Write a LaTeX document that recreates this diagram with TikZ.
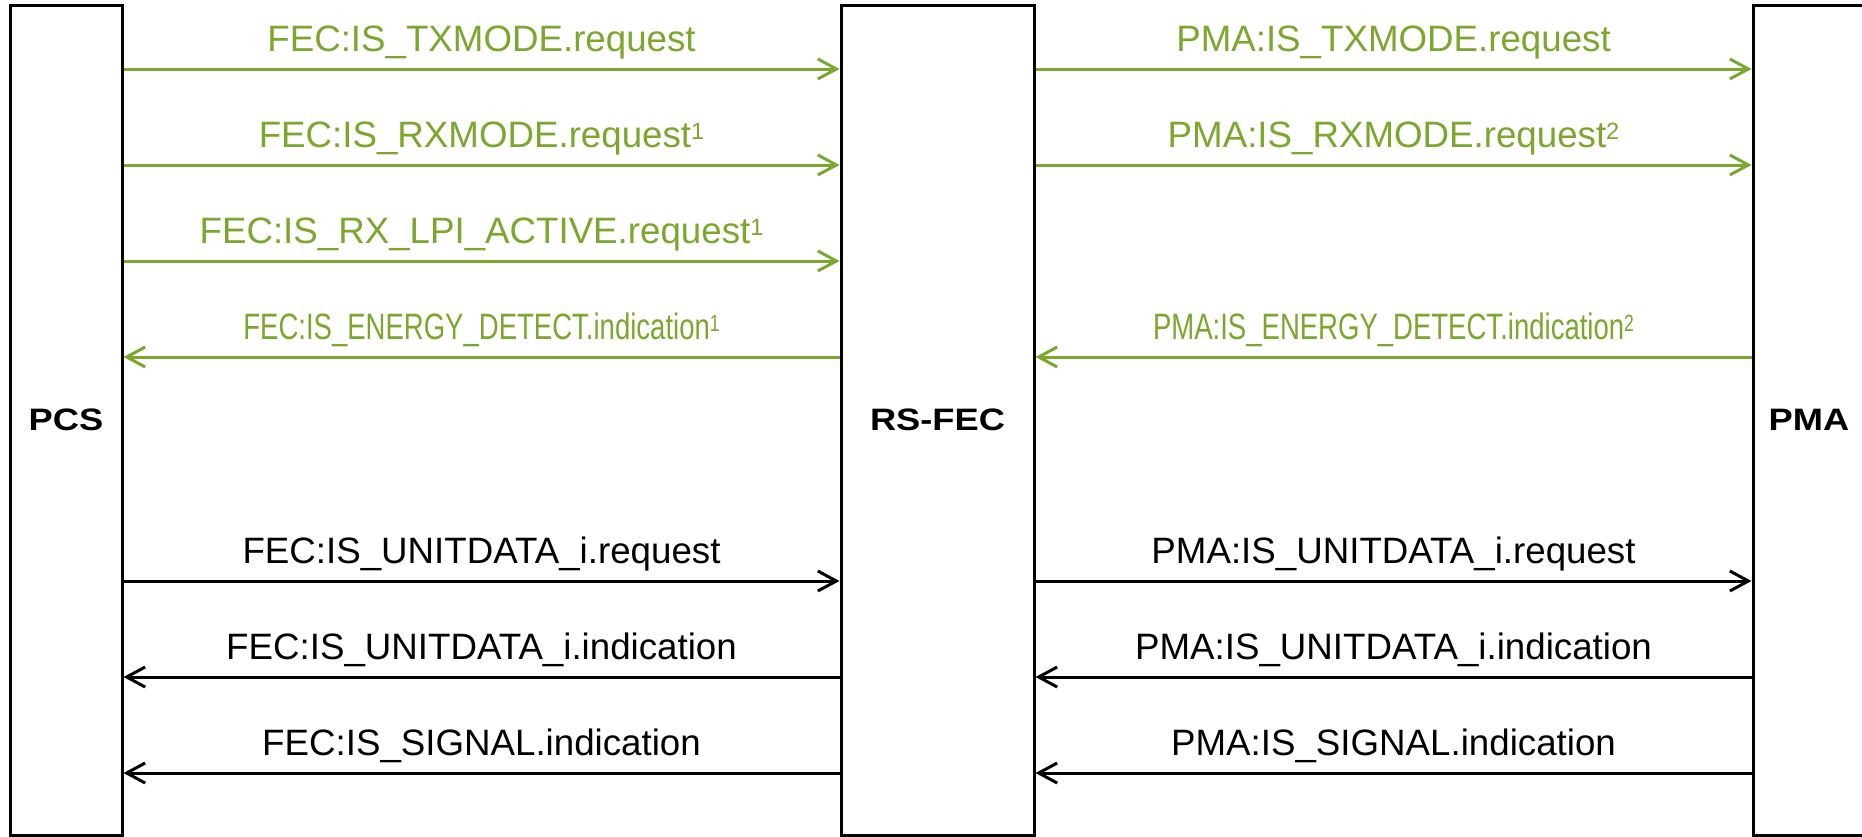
\documentclass[tikz,border=0pt]{standalone}
\usepackage{fontspec}
\setmainfont{Liberation Sans}
\usetikzlibrary{arrows.meta}
\definecolor{lgreen}{RGB}{124,166,46}
\newcommand{\supn}[1]{\raisebox{8pt}{\fontsize{23.5pt}{24pt}\selectfont #1}}
\newcommand{\narrow}[1]{\scalebox{0.75}[1]{#1}}
\tikzset{
  blk/.style={draw=black, line width=3pt, minimum height=830pt, inner sep=0pt,
    font=\fontsize{31pt}{36pt}\selectfont\bfseries},
  conn/.style={line width=3pt, -{Straight Barb[length=18.5pt,width=20pt,line width=3pt]}},
  gconn/.style={conn, draw=lgreen},
  kconn/.style={conn, draw=black},
  lbl/.style={midway, anchor=base, yshift=17.5pt, inner sep=0pt,
    font=\fontsize{36.7pt}{44pt}\selectfont},
  glbl/.style={lbl, text=lgreen},
  klbl/.style={lbl, text=black}
}
\begin{document}
\begin{tikzpicture}[x=1pt,y=-1pt]
\useasboundingbox (0,0) rectangle (1862,836);
\node[blk, minimum width=112pt] (pcs) at (66,420) {\scalebox{1.17}[1]{PCS}};
\node[blk, minimum width=193pt] (fec) at (937.5,420) {\scalebox{1.17}[1]{RS-FEC}};
\node[blk, minimum width=116pt] (pma) at (1811,420) {\hspace*{-4pt}\scalebox{1.17}[1]{PMA}};

% left side, green
\draw[gconn] (pcs.east |- 0,69) -- (fec.west |- 0,69)
  node[glbl] {FEC:IS\_TXMODE.request};
\draw[gconn] (pcs.east |- 0,165) -- (fec.west |- 0,165)
  node[glbl] {FEC:IS\_RXMODE.request\supn{1}};
\draw[gconn] (pcs.east |- 0,261) -- (fec.west |- 0,261)
  node[glbl] {FEC:IS\_RX\_LPI\_ACTIVE.request\supn{1}};
\draw[gconn] (fec.west |- 0,357) -- (pcs.east |- 0,357)
  node[glbl] {\narrow{FEC:IS\_ENERGY\_DETECT.indication\supn{1}}};

% right side, green
\draw[gconn] (fec.east |- 0,69) -- (pma.west |- 0,69)
  node[glbl] {PMA:IS\_TXMODE.request};
\draw[gconn] (fec.east |- 0,165) -- (pma.west |- 0,165)
  node[glbl] {PMA:IS\_RXMODE.request\supn{2}};
\draw[gconn] (pma.west |- 0,357) -- (fec.east |- 0,357)
  node[glbl] {\narrow{PMA:IS\_ENERGY\_DETECT.indication\supn{2}}};

% left side, black
\draw[kconn] (pcs.east |- 0,581) -- (fec.west |- 0,581)
  node[klbl] {FEC:IS\_UNITDATA\_i.request};
\draw[kconn] (fec.west |- 0,677) -- (pcs.east |- 0,677)
  node[klbl] {FEC:IS\_UNITDATA\_i.indication};
\draw[kconn] (fec.west |- 0,773) -- (pcs.east |- 0,773)
  node[klbl] {FEC:IS\_SIGNAL.indication};

% right side, black
\draw[kconn] (fec.east |- 0,581) -- (pma.west |- 0,581)
  node[klbl] {PMA:IS\_UNITDATA\_i.request};
\draw[kconn] (pma.west |- 0,677) -- (fec.east |- 0,677)
  node[klbl] {PMA:IS\_UNITDATA\_i.indication};
\draw[kconn] (pma.west |- 0,773) -- (fec.east |- 0,773)
  node[klbl] {PMA:IS\_SIGNAL.indication};
\end{tikzpicture}
\end{document}
